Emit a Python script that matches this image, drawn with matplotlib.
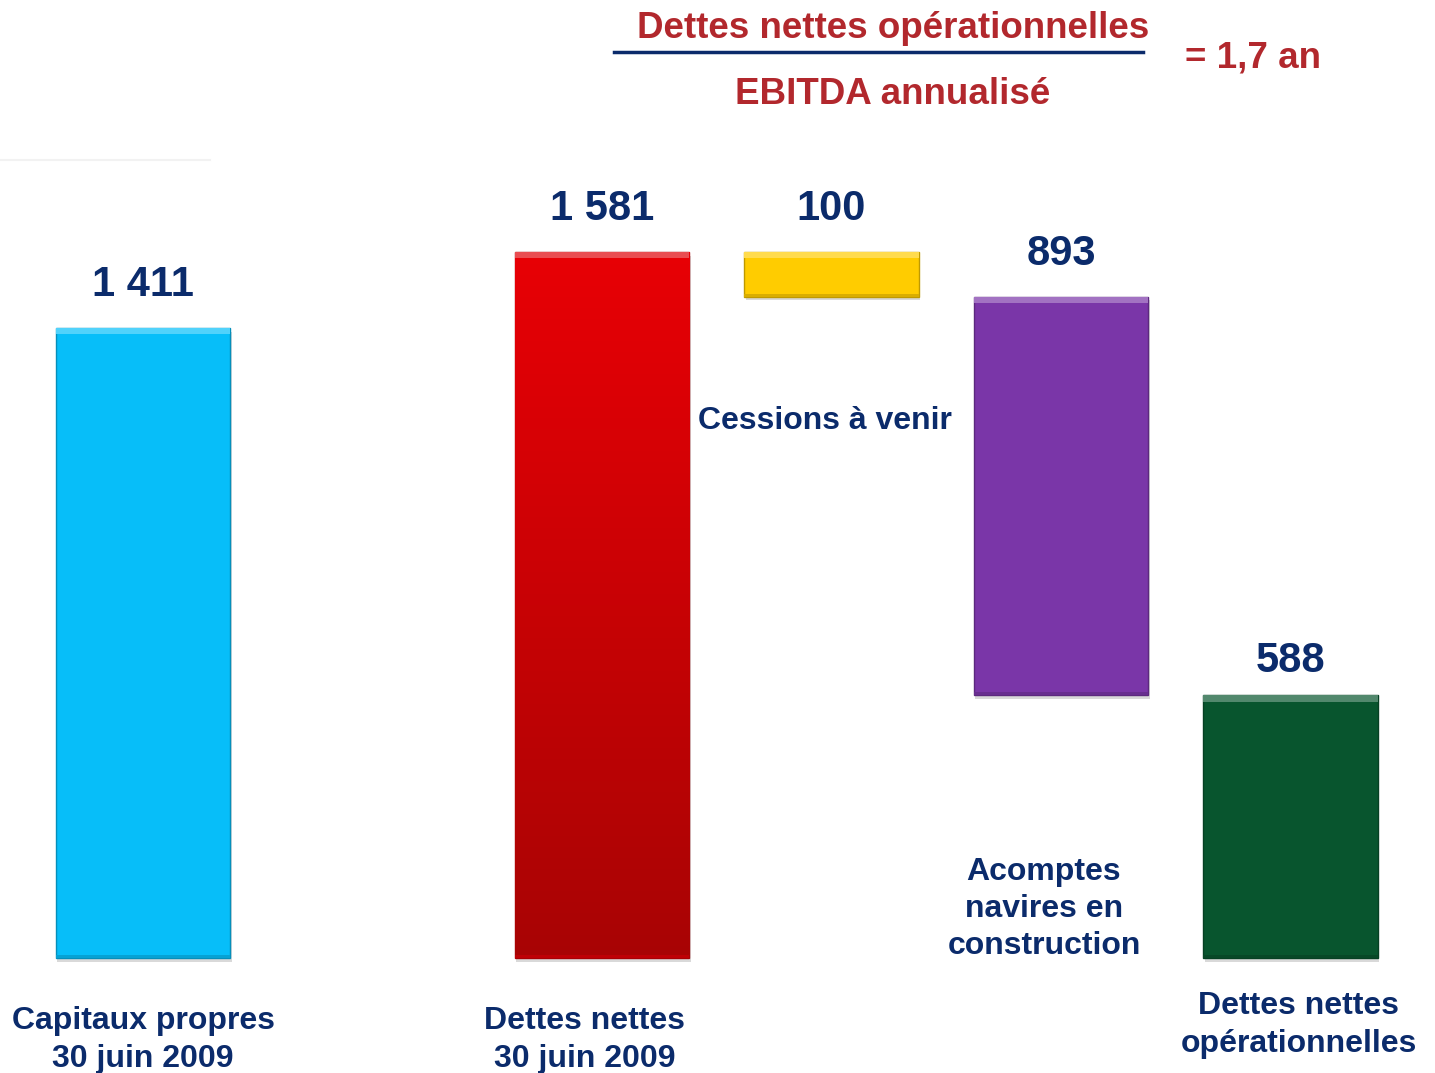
import numpy as np
import matplotlib
matplotlib.use("Agg")
import matplotlib.pyplot as plt
from matplotlib.patches import Rectangle
from matplotlib.colors import LinearSegmentedColormap, to_rgb

# données (millions d'euros)
categories = ["Capitaux propres\n30 juin 2009", "Dettes nettes\n30 juin 2009",
              "Cessions à venir", "Acomptes\nnavires en\nconstruction",
              "Dettes nettes\nopérationnelles"]
positions = [0, 2, 3, 4, 5]
values = [1411, 1581, -100, -893, 588]
kinds = ["total", "total", "delta", "delta", "total"]
value_labels = ["1 411", "1 581", "100", "893", "588"]
colors = ["#07BEF9", "#E00006", "#FFCC00", "#7A36A8", "#08552E"]

NAVY = "#0B2B6B"
RED = "#B2282D"
FONT = ["Liberation Sans", "DejaVu Sans"]

W, H = 1435, 1073
fig = plt.figure(figsize=(W / 100, H / 100), dpi=100)
ax = fig.add_axes([0, 0, 1, 1])
ax.set_xlim(-0.623, 5.63)
ax.set_ylim(-257.6, 2145.6)
ax.axis("off")

width = 0.76

# calcul des bas / hauts (cascade)
bottoms, tops = [], []
running = 0
for v, k in zip(values, kinds):
    if k == "total":
        b, t = 0, v
        running = v
    else:
        t = running
        b = running + v
        running = b
    bottoms.append(b)
    tops.append(t)


def lighten(c, f):
    r, g, b = to_rgb(c)
    return (r + (1 - r) * f, g + (1 - g) * f, b + (1 - b) * f)


def darken(c, f):
    r, g, b = to_rgb(c)
    return (r * (1 - f), g * (1 - f), b * (1 - f))


for i, (x, b, t, c) in enumerate(zip(positions, bottoms, tops, colors)):
    h = t - b
    # ombre
    ax.add_patch(Rectangle((x - width / 2 + 0.006, b - 8), width, h,
                           facecolor="#000000", alpha=0.15, edgecolor="none", zorder=1))
    bar = ax.bar(x, h, bottom=b, width=width, color=c,
                 edgecolor=darken(c, 0.25), linewidth=1.0, zorder=2)[0]
    if i == 1:
        # dégradé rouge vertical
        cmap = LinearSegmentedColormap.from_list("rg", ["#A80404", "#E80006"])
        grad = np.linspace(0, 1, 256).reshape(-1, 1)
        im = ax.imshow(grad, cmap=cmap, aspect="auto", origin="lower",
                       extent=(x - width / 2, x + width / 2, b, t), zorder=2.5)
        im.set_clip_path(bar)
    # biseau clair en haut
    ax.add_patch(Rectangle((x - width / 2, t - 14), width, 14,
                           facecolor=lighten(c, 0.3), edgecolor="none", zorder=3))
    ax.add_patch(Rectangle((x - width / 2, b), width, 7,
                           facecolor=darken(c, 0.15), edgecolor="none", zorder=3))

# étiquettes de valeurs
offsets = [31, 31, 31, 31, 25]
for x, t, lab, off in zip(positions, tops, value_labels, offsets):
    ax.annotate(lab, xy=(x, t), xytext=(0, off), textcoords="offset points",
                ha="center", va="center", fontsize=30, fontweight="bold",
                color=NAVY, family=FONT)


def ftext(px, py, s, **kw):
    fig.text(px / W, 1 - py / H, s, ha="center", va="center", **kw)


# libellés de catégories
cat_px = [(143, 1040), (585, 1040), (825, 421), (1044, 909), (1299, 1025)]
for (px, py), lab in zip(cat_px, categories):
    ftext(px, py, lab, fontsize=23, fontweight="bold", color=NAVY,
          family=FONT, linespacing=1.32)

# ratio en haut
ftext(893, 28, "Dettes nettes opérationnelles", fontsize=26.5, fontweight="bold",
      color=RED, family=FONT)
ftext(893, 95, "EBITDA annualisé", fontsize=26.5, fontweight="bold",
      color=RED, family=FONT)
fig.add_artist(plt.Line2D([614 / W, 1143 / W], [1 - 52 / H, 1 - 52 / H],
                          color="#0B2B6B", linewidth=2.5))
fig.text(1185 / W, 1 - 58 / H, "= 1,7 an", ha="left", va="center", fontsize=26.5,
         fontweight="bold", color=RED, family=FONT)
fig.add_artist(plt.Line2D([0, 210 / W], [1 - 160 / H, 1 - 160 / H],
                          color="#F2F2F2", linewidth=1.5))

fig.savefig("out.png", dpi=100)
